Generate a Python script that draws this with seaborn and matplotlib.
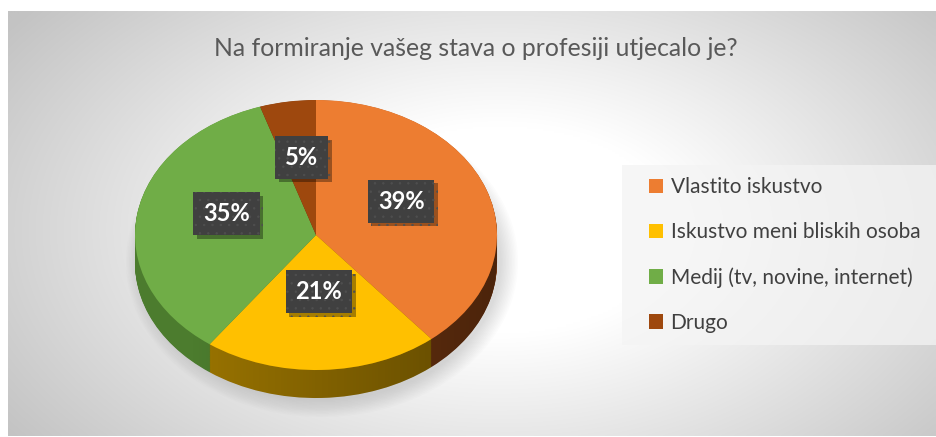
import numpy as np
import matplotlib
matplotlib.use("Agg")
import matplotlib.pyplot as plt
import matplotlib.patheffects as pe
from matplotlib.patches import Rectangle, Ellipse, Polygon
import seaborn as sns

# ---- data ----
categories = ["Vlastito iskustvo", "Iskustvo meni bliskih osoba",
              "Medij (tv, novine, internet)", "Drugo"]
values = [39, 21, 35, 5]
title = "Na formiranje vašeg stava o profesiji utjecalo je?"

top_colors = ["#ED7D31", "#FFC000", "#70AD47", "#9E480E"]
side_colors = ["#7A3A12", "#9A7400", "#4C7C2E", "#5E2A08"]

sns.set_theme(style="white")
plt.rcParams["font.family"] = ["Lato", "DejaVu Sans"]
plt.rcParams["hatch.linewidth"] = 0.5

W, H = 936, 437
fig = plt.figure(figsize=(W / 100, H / 100), dpi=100)
fig.patch.set_facecolor("white")

# background axes in pixel coordinates
bg = fig.add_axes([0, 0, 1, 1])
bg.set_xlim(0, W)
bg.set_ylim(H, 0)
bg.axis("off")

# radial gradient panel
x0, y0, x1, y1 = 8, 11, W, 436
xs = np.linspace(x0, x1, 400)
ys = np.linspace(y0, y1, 200)
XX, YY = np.meshgrid(xs, ys)
rr = np.sqrt(((XX - 500) / 500) ** 2 + ((YY - 230) / 300) ** 2)
t = np.clip((rr - 0.35) / 0.85, 0, 1)
v = (255 - 60 * t) / 255.0
img = np.dstack([v, v, v])
bg.imshow(img, extent=[x0, x1, y1, y0], aspect="auto", zorder=0,
          interpolation="bilinear")

# soft shadow under the pie
for i in range(12):
    bg.add_patch(Ellipse((322, 262), 2 * 181 + 30 - i * 3, 2 * 135 + 40 - i * 3,
                         facecolor="#808080", edgecolor="none", alpha=0.025, zorder=1))

# legend backing box
bg.add_patch(Rectangle((622, 165), W - 622, 180, facecolor="#f4f4f4",
                       edgecolor="none", alpha=0.75, zorder=1))

bg.text(476, 48, title, ha="center", va="center", fontsize=17.8,
        color="#595959", zorder=3)

# ---- 3D-ish pie ----
cx, cy, rx, ry, depth = 316, 235, 181, 135, 28
pad = 0.05
dd = depth / ry
left_px = cx - rx * (1 + pad)
right_px = cx + rx * (1 + pad)
top_px = cy - ry * (1 + pad)
bot_px = cy + ry * (1 + pad) + depth
pax = fig.add_axes([left_px / W, 1 - bot_px / H, (right_px - left_px) / W,
                    (bot_px - top_px) / H])
pax.patch.set_alpha(0)

n_layers = 40
for k in np.linspace(dd, 0.002, n_layers):
    pax.pie(values, colors=side_colors, startangle=90, counterclock=False,
            center=(0, -k), radius=1, wedgeprops=dict(linewidth=0))

# side shading gradient
band_x = np.linspace(-1, 1, 200)
upper = -np.sqrt(1 - band_x ** 2)
lower = upper - dd
poly = np.vstack([np.column_stack([band_x, upper]),
                  np.column_stack([band_x[::-1], lower[::-1]])])
clip = Polygon(poly, closed=True, transform=pax.transData, facecolor="none",
               edgecolor="none")
pax.add_patch(clip)
grad = np.linspace(0, 1, 256)[None, :]
rgba = np.zeros((1, 256, 4))
a = np.clip(grad - 0.15, 0, 1)[0]
rgba[0, :, 3] = 0.45 * a
gim = pax.imshow(rgba, extent=[-1, 1, -1 - dd, 0], aspect="auto", zorder=5,
                 interpolation="bilinear")
gim.set_clip_path(clip)

wedges, texts, autotexts = pax.pie(
    values, colors=top_colors, startangle=90, counterclock=False,
    radius=1, autopct="%1.0f%%", pctdistance=0.5,
    wedgeprops=dict(linewidth=0),
    textprops=dict(color="white", fontsize=17, fontweight="bold"))
for w in wedges:
    w.set_zorder(6)
for at in autotexts:
    x, y = at.get_position()
    at.set_position((x, y + 0.08))
    at.set_zorder(10)
    at.set_bbox(dict(boxstyle="square,pad=0.42", facecolor="#404040",
                     edgecolor="#4f4f4f", hatch="..", linewidth=0))
    at.get_bbox_patch().set_path_effects(
        [pe.withSimplePatchShadow(offset=(2.5, -2.5), shadow_rgbFace="black",
                                  alpha=0.35), pe.Normal()])

pax.set_aspect("auto")
pax.set_xlim(-1 - pad, 1 + pad)
pax.set_ylim(-1 - pad - dd, 1 + pad)
pax.axis("off")

leg = fig.legend(wedges, categories, loc="center left",
                 bbox_to_anchor=(630 / W, 1 - 255 / H), frameon=False,
                 fontsize=15, labelcolor="#404040", handlelength=0.7,
                 handleheight=0.7, handletextpad=0.35, labelspacing=1.2)
for h in leg.legend_handles:
    h.set_edgecolor("none")

fig.savefig("out.png", dpi=100)
